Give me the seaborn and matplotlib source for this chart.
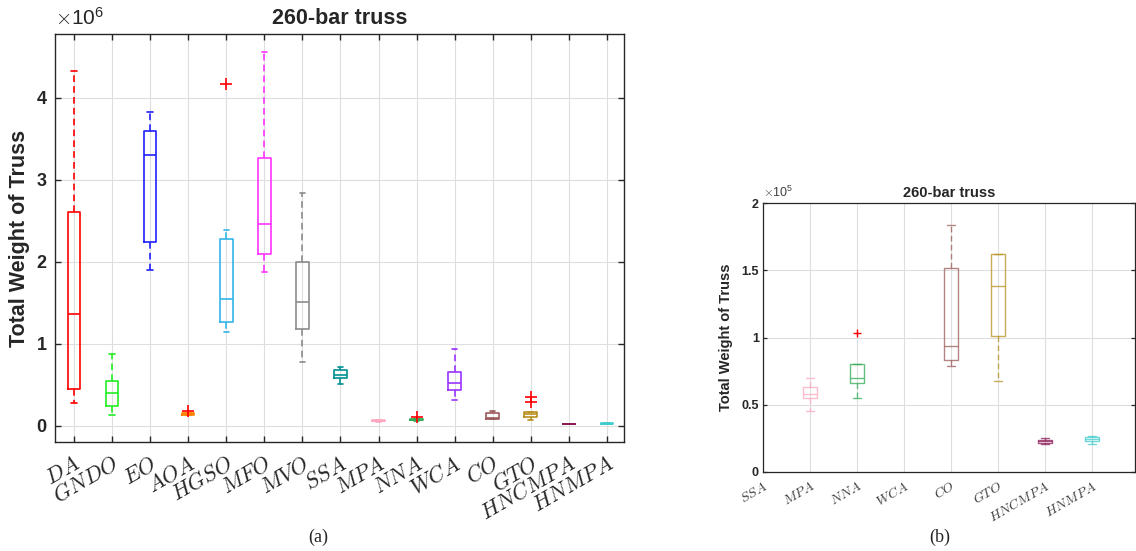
import matplotlib
matplotlib.use("Agg")
import matplotlib.pyplot as plt
import seaborn as sns
import pandas as pd
from matplotlib.ticker import FuncFormatter

# ---------------- data (units: weight) ----------------
categories = ['DA', 'GNDO', 'EO', 'AOA', 'HGSO', 'MFO', 'MVO', 'SSA', 'MPA',
              'NNA', 'WCA', 'CO', 'GTO', 'HNCMPA', 'HNMPA']
whisker_low = [0.28e6, 0.135e6, 1.905e6, 0.125e6, 1.144e6, 1.87e6, 0.78e6, 0.51e6,
               0.045e6, 0.055e6, 0.31e6, 0.079e6, 0.068e6, 0.021e6, 0.021e6]
q1 = [0.45e6, 0.245e6, 2.24e6, 0.133e6, 1.27e6, 2.10e6, 1.18e6, 0.58e6,
      0.055e6, 0.066e6, 0.43e6, 0.083e6, 0.101e6, 0.0218e6, 0.0232e6]
median = [1.36e6, 0.40e6, 3.30e6, 0.142e6, 1.55e6, 2.46e6, 1.51e6, 0.615e6,
          0.058e6, 0.070e6, 0.52e6, 0.094e6, 0.138e6, 0.0228e6, 0.0245e6]
q3 = [2.61e6, 0.55e6, 3.59e6, 0.152e6, 2.28e6, 3.27e6, 2.00e6, 0.68e6,
      0.063e6, 0.080e6, 0.66e6, 0.152e6, 0.162e6, 0.024e6, 0.026e6]
whisker_high = [4.33e6, 0.87e6, 3.83e6, 0.158e6, 2.385e6, 4.56e6, 2.845e6, 0.72e6,
                0.070e6, 0.080e6, 0.93e6, 0.184e6, 0.162e6, 0.025e6, 0.027e6]
outlier_cat = ['AOA', 'HGSO', 'NNA', 'GTO', 'GTO']
outlier_val = [0.18e6, 4.17e6, 0.103e6, 0.293e6, 0.354e6]

box_colors = ['#ff0000', '#22ee22', '#2020ff', '#ff8000', '#33b5e8', '#ff33ff',
              '#8c8c8c', '#009090', '#ffa8c0', '#33aa55', '#9933ff', '#9c5a5a',
              '#b8901e', '#8c1a55', '#40cccc']

zoom_categories = categories[7:]
yticks_a = [0, 1e6, 2e6, 3e6, 4e6]
yticks_b = [0, 0.5e5, 1e5, 1.5e5, 2e5]

# ---------------- style ----------------
sns.set_theme(style="whitegrid")
plt.rcParams['font.family'] = ['Liberation Sans', 'DejaVu Sans']
plt.rcParams['mathtext.fontset'] = 'cm'
plt.rcParams['xtick.direction'] = 'in'
plt.rcParams['ytick.direction'] = 'in'

fig = plt.figure(figsize=(11.36, 5.51), dpi=100)
fig.patch.set_facecolor('white')
axa = fig.add_axes([55 / 1136, 1 - 442 / 551, 569 / 1136, 408 / 551])
axb = fig.add_axes([763 / 1136, 1 - 472 / 551, 372 / 1136, 269 / 551])


def draw(ax, cats, lw, width, capw, alpha, flier_size):
    stats = []
    cols = []
    for c in cats:
        i = categories.index(c)
        stats.append(dict(label=c, whislo=whisker_low[i], q1=q1[i], med=median[i],
                          q3=q3[i], whishi=whisker_high[i], fliers=[]))
        cols.append(box_colors[i])
    pos = list(range(1, len(cats) + 1))
    art = ax.bxp(stats, positions=pos, widths=width, capwidths=capw,
                 showfliers=False, manage_ticks=False,
                 boxprops=dict(linewidth=lw),
                 medianprops=dict(linewidth=lw),
                 whiskerprops=dict(linewidth=lw, linestyle=(0, (4, 2.5))),
                 capprops=dict(linewidth=lw))
    for k, col in enumerate(cols):
        for a in [art['boxes'][k], art['medians'][k], art['whiskers'][2 * k],
                  art['whiskers'][2 * k + 1], art['caps'][2 * k], art['caps'][2 * k + 1]]:
            a.set_color(col)
            a.set_alpha(alpha)
            a.set_zorder(3)
    # outliers
    odf = pd.DataFrame({'cat': outlier_cat, 'val': outlier_val})
    odf = odf[odf['cat'].isin(cats)].copy()
    odf['pos'] = [cats.index(c) + 1 for c in odf['cat']]
    sns.scatterplot(data=odf, x='pos', y='val', marker='+', color='red',
                    s=flier_size, linewidth=lw, ax=ax, zorder=4, legend=False)
    ax.set_xticks(pos)
    ax.set_xticklabels(['$' + c + '$' for c in cats])
    ax.set_xlabel('')


def frame(ax, lw):
    ax.set_facecolor('white')
    for s in ax.spines.values():
        s.set_visible(True)
        s.set_color('#262626')
        s.set_linewidth(lw)
    ax.grid(True, color='#dedede', linewidth=0.8)
    ax.set_axisbelow(True)
    ax.tick_params(axis='both', which='both', top=True, right=True, bottom=True,
                   left=True, length=4, width=lw, color='#262626')


# ---------------- panel (a) ----------------
draw(axa, categories, 1.2, 0.33, 0.14, 1.0, 70)
frame(axa, 1.0)
axa.set_xlim(0.5, 15.45)
axa.set_ylim(-0.2e6, 4.78e6)
axa.set_yticks(yticks_a)
axa.yaxis.set_major_formatter(FuncFormatter(lambda v, p: f'{v / 1e6:g}'))
for t in axa.get_yticklabels():
    t.set_fontweight('bold')
    t.set_fontsize(13)
axa.tick_params(axis='y', pad=6)
for t in axa.get_xticklabels():
    t.set_fontsize(16)
    t.set_rotation(30)
    t.set_ha('right')
    t.set_rotation_mode('anchor')
    t.set_color('#262626')
axa.tick_params(axis='x', pad=8)
axa.set_ylabel('Total Weight of Truss', fontsize=15.5, fontweight='bold', labelpad=5)
axa.set_title('260-bar truss', fontsize=15.5, fontweight='bold', pad=7)
axa.text(0.0, 1.012, r'$\times\mathregular{10^{6}}$', transform=axa.transAxes,
         fontsize=15, color='#262626', ha='left', va='bottom')

# ---------------- panel (b) ----------------
draw(axb, zoom_categories, 1.0, 0.31, 0.16, 0.75, 40)
frame(axb, 0.9)
axb.set_xlim(1, 8.92)
axb.set_ylim(0, 2e5)
axb.set_yticks(yticks_b)
axb.yaxis.set_major_formatter(FuncFormatter(lambda v, p: f'{v / 1e5:g}'))
for t in axb.get_yticklabels():
    t.set_fontweight('bold')
    t.set_fontsize(9)
for t in axb.get_xticklabels():
    t.set_fontsize(10)
    t.set_rotation(30)
    t.set_ha('right')
    t.set_rotation_mode('anchor')
    t.set_color('#404040')
axb.tick_params(axis='x', pad=5, length=0)
axb.tick_params(axis='y', pad=3, length=3)
axb.set_ylabel('Total Weight of Truss', fontsize=10.5, fontweight='bold', labelpad=6)
axb.set_title('260-bar truss', fontsize=10.5, fontweight='bold', pad=4)
axb.text(0.0, 1.01, r'$\times\mathregular{10^{5}}$', transform=axb.transAxes,
         fontsize=9, color='#404040', ha='left', va='bottom')

# captions
fig.text(318 / 1136, 1 - 537 / 551, '(a)', family='Liberation Serif', fontsize=13,
         ha='center', va='center')
fig.text(940 / 1136, 1 - 537 / 551, '(b)', family='Liberation Serif', fontsize=13,
         ha='center', va='center')

fig.savefig('out.png', dpi=100, facecolor='white')
